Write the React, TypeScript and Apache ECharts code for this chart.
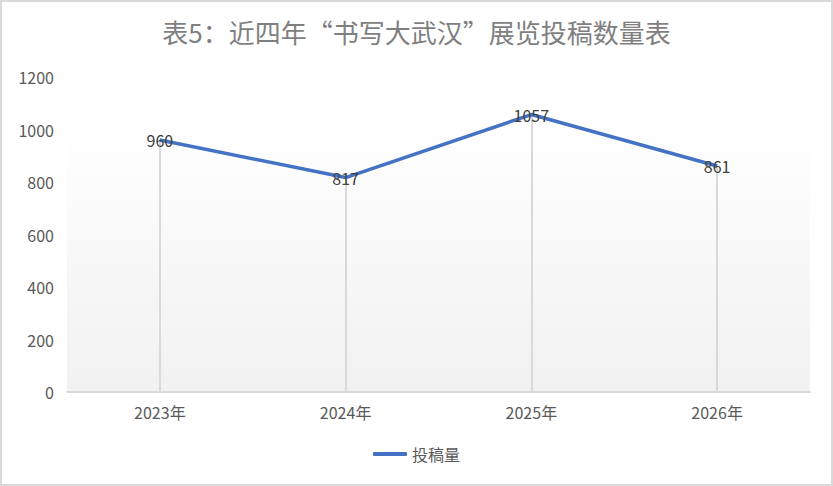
import React, { useEffect, useRef } from "react";
import * as echarts from "echarts";

const categories = ["2023年", "2024年", "2025年", "2026年"];
const values = [960, 817, 1057, 861];
const seriesName = "投稿量";
const titleText = "表5：近四年“书写大武汉”展览投稿数量表";

export default function App() {
  const ref = useRef<HTMLDivElement>(null);
  useEffect(() => {
    document.body.style.margin = "0";
    const chart = echarts.init(ref.current!, null, { renderer: "svg" });
    const font = "'Noto Sans CJK SC', 'Noto Sans', sans-serif";
    chart.setOption({
      animation: false,
      backgroundColor: "#ffffff",
      textStyle: { fontFamily: font },
      title: {
        text: titleText,
        left: "center",
        top: 11,
        textStyle: { fontSize: 26, fontWeight: "normal", color: "#7f7f7f", fontFamily: font },
      },
      legend: {
        bottom: 17,
        left: "center",
        itemWidth: 34,
        itemHeight: 4,
        icon: "roundRect",
        textStyle: { fontSize: 16, color: "#595959", fontFamily: font },
        data: [seriesName],
      },
      grid: {
        left: 65,
        right: 21,
        top: 75,
        bottom: 92,
        show: true,
        borderWidth: 0,
        backgroundColor: new echarts.graphic.LinearGradient(0, 0, 0, 1, [
          { offset: 0, color: "#ffffff" },
          { offset: 0.15, color: "#ffffff" },
          { offset: 1, color: "#f1f1f1" },
        ]),
      },
      xAxis: {
        type: "category",
        data: categories,
        boundaryGap: true,
        axisLine: { lineStyle: { color: "#d9d9d9", width: 2 } },
        axisTick: { show: false },
        axisLabel: { fontSize: 16, color: "#595959", margin: 12, fontFamily: font },
      },
      yAxis: {
        type: "value",
        min: 0,
        max: 1200,
        interval: 200,
        axisLine: { show: false },
        axisTick: { show: false },
        splitLine: { show: false },
        axisLabel: {
          fontSize: 16,
          color: "#595959",
          margin: 13,
          fontFamily: font,
          formatter: (v: number) => String(v),
        },
      },
      series: [
        {
          name: seriesName,
          type: "line",
          data: values,
          symbol: "circle",
          showSymbol: true,
          symbolSize: 1,
          lineStyle: { color: "#4472c4", width: 3.5 },
          itemStyle: { color: "#4472c4" },
          label: {
            show: true,
            position: "inside",
            fontSize: 16,
            color: "#404040",
            fontFamily: font,
          },
          markLine: {
            silent: true,
            symbol: "none",
            label: { show: false },
            lineStyle: { color: "#d9d9d9", width: 2, type: "solid" },
            data: categories.map((c, i) => [
              { coord: [c, 0] },
              { coord: [c, values[i]] },
            ]),
            z: 1,
          },
          z: 3,
        },
      ],
    });
    return () => chart.dispose();
  }, []);
  return (
    <div
      ref={ref}
      style={{
        width: 833,
        height: 486,
        boxSizing: "border-box",
        border: "2px solid #d9d9d9",
      }}
    />
  );
}
